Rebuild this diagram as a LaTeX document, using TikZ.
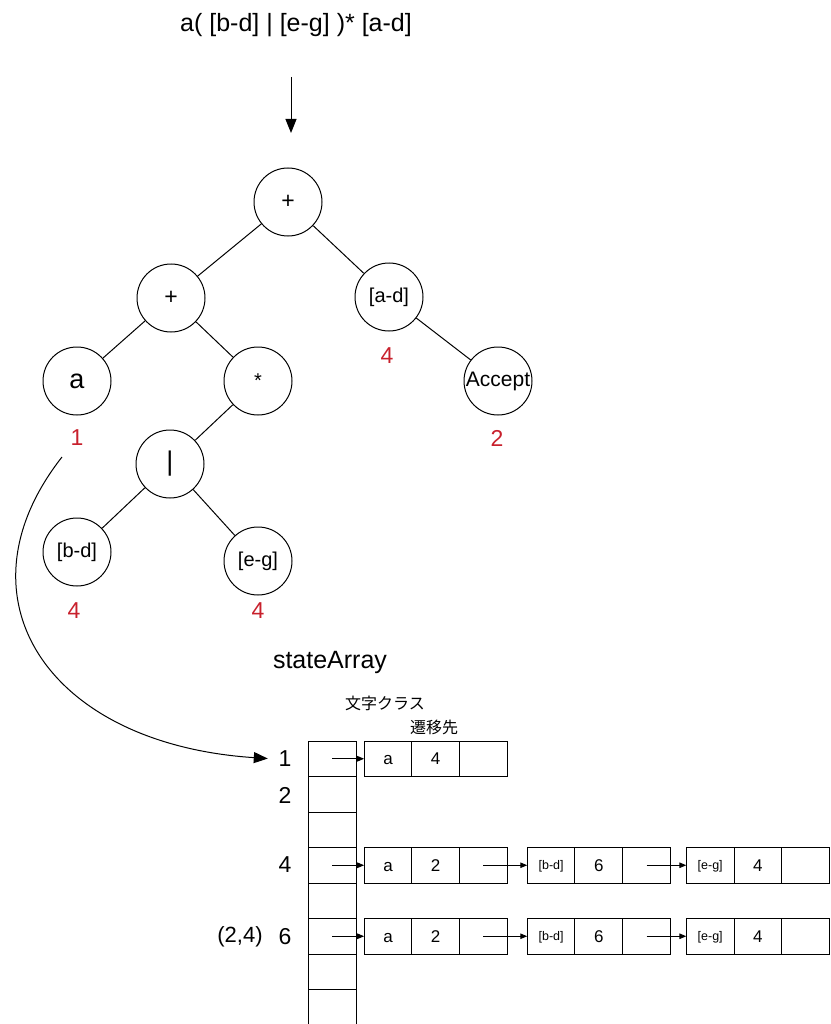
\documentclass[tikz,border=0pt]{standalone}
\usepackage{fontspec}
\setmainfont{Liberation Sans}
\newfontfamily\jpfont{Noto Sans CJK JP}
\usetikzlibrary{arrows.meta,positioning,calc}
\definecolor{weightred}{RGB}{200,32,44}

\begin{document}
\begin{tikzpicture}[
  x=1pt, y=-1pt,
  line width=1pt,
  tree/.style={circle, draw, minimum size=68pt, inner sep=0pt, font=\fontsize{20}{20}\selectfont},
  weight/.style={text=weightred, font=\fontsize{23}{23}\selectfont},
  big/.style={font=\fontsize{25}{25}\selectfont},
  rowlabel/.style={font=\fontsize{23}{23}\selectfont},
  jp/.style={font=\jpfont\fontsize{16}{16}\selectfont},
  arr/.style={draw, -{Triangle[length=14pt,width=11pt]}},
  ptr/.style={draw, -{Triangle[length=7pt,width=5.5pt]}},
  slot/.style={rectangle, draw, minimum width=48pt, minimum height=35.5pt, inner sep=0pt, outer sep=0pt},
  cell/.style={rectangle, draw, minimum width=47.7pt, minimum height=35.5pt, inner sep=0pt, outer sep=0pt,
               text height=12pt, text depth=0pt, font=\fontsize{17}{17}\selectfont},
  klass/.style={cell, text height=9pt, font=\fontsize{12.5}{12.5}\selectfont}
]
\useasboundingbox (0,0) rectangle (830,1024);

% =======================================================
%                     REGEX AND SYNTAX TREE
% =======================================================
\node[big] (regex) at (296,25) {a( [b-d] | [e-g] )* [a-d]};
\coordinate (arrow_top) at (291,77);
\coordinate (arrow_bot) at (291,133);
\draw[arr] (arrow_top) -- (arrow_bot);

\node[tree, font=\fontsize{23}{23}\selectfont] (root) at (288,202) {+};
\node[tree, font=\fontsize{23}{23}\selectfont] (plus) at (171,298) {+};
\node[tree] (ad) at (389,297) {[a-d]};
\node[tree, font=\fontsize{27}{27}\selectfont] (a) at (77,381) {a};
\node[tree] (star) at (258,381) {*};
\node[tree, inner sep=-8pt, font=\fontsize{21}{21}\selectfont] (accept) at (498,381) {Accept};
\node[tree, font=\fontsize{27}{27}\selectfont] (bar) at (170,464) {|};
\node[tree] (bd) at (77,552) {[b-d]};
\node[tree] (eg) at (258,561) {[e-g]};

% weights
\node[weight] (w_a) at (77,438) {1};
\node[weight] (w_ad) at (387,356) {4};
\node[weight] (w_accept) at (497,438) {2};
\node[weight] (w_bd) at (74,611) {4};
\node[weight] (w_eg) at (258,611) {4};

% tree edges
\draw (root) -- (plus);
\draw (root) -- (ad);
\draw (plus) -- (a);
\draw (plus) -- (star);
\draw (star) -- (bar);
\draw (bar) -- (bd);
\draw (bar) -- (eg);
\draw (ad) -- (accept);

% =======================================================
%                     STATE ARRAY
% =======================================================
\node[big] (state_array) at (330,662) {stateArray};
\node[jp] (char_class) at (385,703) {文字クラス};
\node[jp] (next_state) at (434,727) {遷移先};

\foreach \i in {1,...,8}
  \node[slot] (s\i) at (332,{741+35.5*(\i-0.5)}) {};

\node[rowlabel] (lbl1) at (285,759) {1};
\node[rowlabel] (lbl2) at (285,795) {2};
\node[rowlabel] (lbl4) at (285,865) {4};
\node[rowlabel] (lbl6) at (285,937) {6};
\node[rowlabel, font=\fontsize{22}{22}\selectfont] (pair) at (240,937) {(2,4)};

% row 1
\node[cell] (n1-a) at (388,758.75) {a};
\node[cell, right=0pt of n1-a] (n1-b) {4};
\node[cell, right=0pt of n1-b] (n1-c) {};
\draw[ptr] (s1.center) -- (n1-a.west);

% rows 4 and 6
\foreach \r in {4,6} {
  \node[cell] (n\r-a) at (388,{741+35.5*(\r-0.5)}) {a};
  \node[cell, right=0pt of n\r-a] (n\r-b) {2};
  \node[cell, right=0pt of n\r-b] (n\r-c) {};
  \node[klass, right=20pt of n\r-c] (n\r-d) {[b-d]};
  \node[cell, right=0pt of n\r-d] (n\r-e) {6};
  \node[cell, right=0pt of n\r-e] (n\r-f) {};
  \node[klass, right=16pt of n\r-f] (n\r-g) {[e-g]};
  \node[cell, right=0pt of n\r-g] (n\r-h) {4};
  \node[cell, right=0pt of n\r-h] (n\r-i) {};
  \draw[ptr] (s\r.center) -- (n\r-a.west);
  \draw[ptr] (n\r-c.center) -- (n\r-d.west);
  \draw[ptr] (n\r-f.center) -- (n\r-g.west);
}

% weight 1 -> state 1
\coordinate (curve_start) at (62,457);
\draw[arr, shorten >=7pt] (curve_start) .. controls +(-110,140) and +(-228,-15) .. (lbl1.west);

\end{tikzpicture}
\end{document}
